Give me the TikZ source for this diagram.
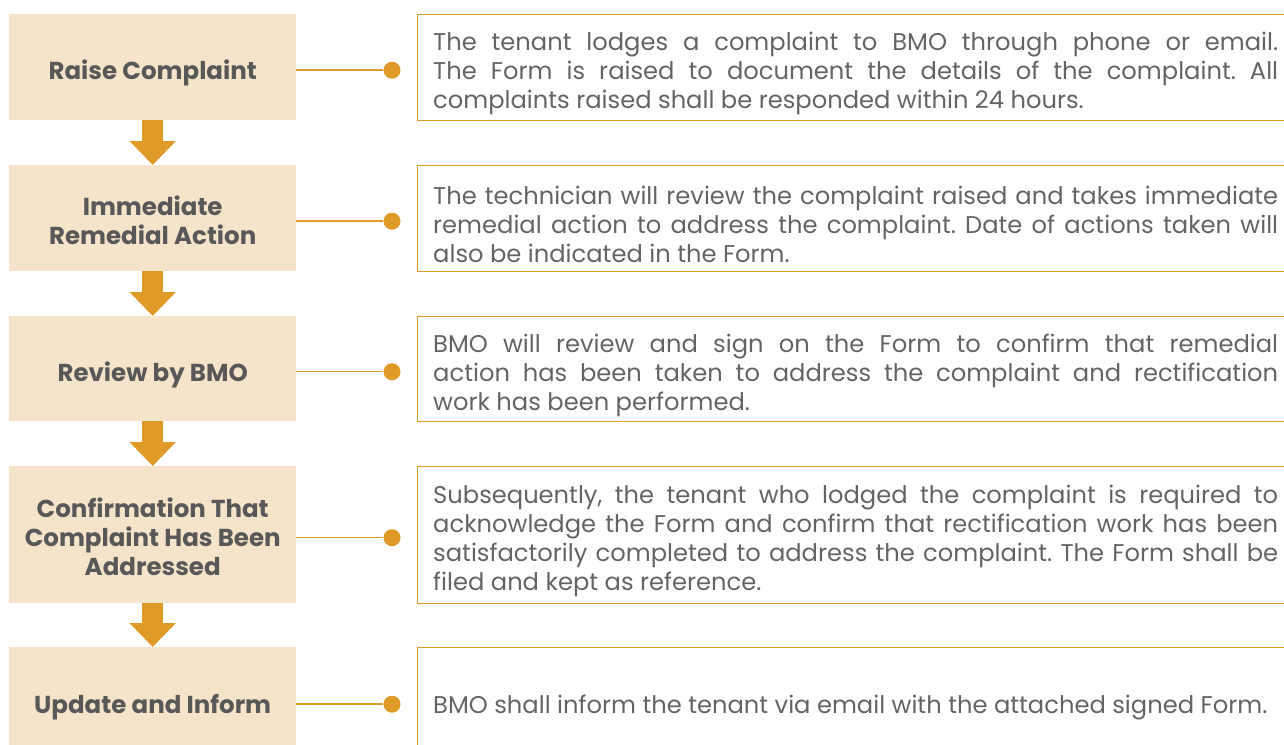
\documentclass[tikz,border=0pt]{standalone}
\usepackage{fontspec}
\setmainfont{Poppins}
\usetikzlibrary{arrows.meta,positioning}
\definecolor{bmoorange}{RGB}{224,154,40}
\definecolor{bmobeige}{RGB}{245,228,201}
\definecolor{bmogray}{RGB}{88,88,88}
\definecolor{bmotext}{RGB}{100,100,100}
\newcommand\nohyph{\hyphenpenalty=10000\relax\frenchspacing}

\tikzset{
  stagebox/.style={fill=bmobeige, inner sep=0pt, minimum width=287pt},
  stagetext/.style={text=bmogray, align=center, inner sep=0pt,
    font=\fontsize{24.5}{29}\selectfont\bfseries},
  descbox/.style={draw=bmoorange, line width=1.2pt, inner sep=0pt, minimum width=880pt},
  desctext/.style={text=bmotext, inner sep=0pt, text width=845pt, align=justify,
    font=\fontsize{24.2}{29}\selectfont\nohyph},
  flowarrow/.style={bmoorange, line width=21pt, -{Triangle[length=24pt,width=45pt]}},
  linkline/.style={bmoorange, line width=1.5pt},
  linkdot/.style={circle, fill=bmoorange, minimum size=17pt, inner sep=0pt},
}

\begin{document}
\begin{tikzpicture}[x=1pt,y=-1pt]
  \path[use as bounding box, clip] (0,0) rectangle (1284,744);
  % Stages and their descriptions
  \foreach \i/\ytop/\hgt/\sdy/\stage/\desc in {
    1/14/106/6/{Raise Complaint}/{The tenant lodges a complaint to BMO through phone or email.\linebreak The Form is raised to document the details of the complaint. All\linebreak complaints raised shall be responded within 24 hours.},
    2/165/106/2/{Immediate\\Remedial Action}/{The technician will review the complaint raised and takes immediate\linebreak remedial action to address the complaint. Date of actions taken will\linebreak also be indicated in the Form.},
    3/316/105/6/{Review by BMO}/{BMO will review and sign on the Form to confirm that remedial\linebreak action has been taken to address the complaint and rectification\linebreak work has been performed.},
    4/466/137/2/{Confirmation That\\Complaint Has Been\\Addressed}/{Subsequently, the tenant who lodged the complaint is required to\linebreak acknowledge the Form and confirm that rectification work has been\linebreak satisfactorily completed to address the complaint. The Form shall be\linebreak filed and kept as reference.},
    5/647/108/6/{Update and Inform}/{BMO shall inform the tenant via email with the attached signed Form.}}{
    \node[stagebox, anchor=north west, minimum height=\hgt pt] (stage\i) at (9,\ytop) {};
    \node[stagetext] (label\i) at ([yshift=-\sdy pt]stage\i.center) {\stage};
    \node[descbox, anchor=north west, minimum height=\hgt pt] (desc\i) at (417,\ytop) {};
    \node[desctext, anchor=west] (note\i) at ([xshift=16pt,yshift=-6pt]desc\i.west) {\desc};
    \node[linkdot] (dot\i) at ([yshift=-3pt]stage\i.center -| 392,0) {};
    \draw[linkline] (stage\i.east |- dot\i) -- (dot\i);
  }
  % Flow arrows
  \foreach \i [evaluate=\i as \j using int(\i+1)] in {1,...,4}{
    \draw[flowarrow] (stage\i.south) -- (stage\j.north);
  }
\end{tikzpicture}
\end{document}
